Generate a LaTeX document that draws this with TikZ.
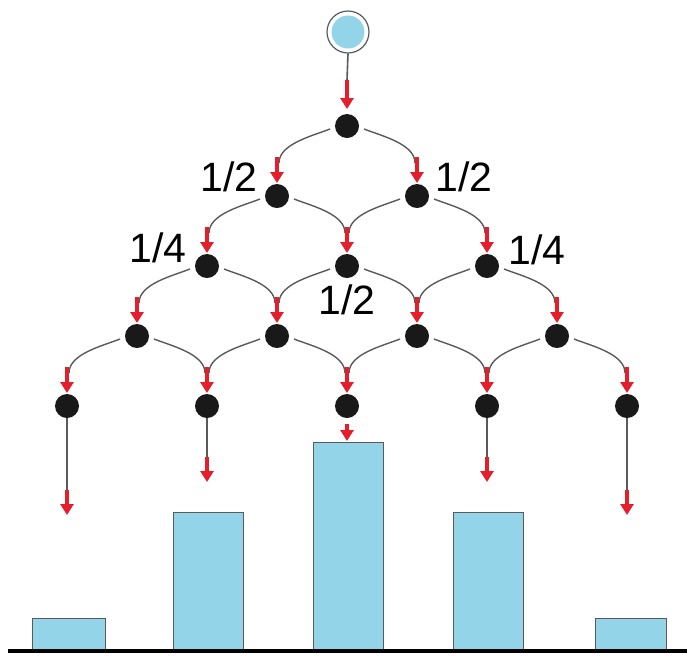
\documentclass[tikz,border=0pt]{standalone}
\usepackage{fontspec}
\setmainfont{Liberation Sans}
\usetikzlibrary{arrows.meta,calc}
\definecolor{barblue}{HTML}{93D4E8}
\definecolor{arrred}{HTML}{E41E2B}
\definecolor{linegray}{HTML}{5A5A5A}
\tikzset{
  dot/.style={circle,fill=black!90,inner sep=0pt,minimum size=24pt},
  arc/.style={draw=linegray,line width=1.4pt},
  stem/.style={draw=linegray,line width=1.6pt},
  redarr/.style={draw=arrred,line width=3.6pt,-{Triangle[width=13pt,length=11pt]}},
  bar/.style={draw=linegray,line width=1pt,fill=barblue},
  lbl/.style={font=\fontsize{41}{41}\selectfont,inner sep=0pt}
}
\begin{document}
\begin{tikzpicture}[x=1pt,y=-1pt]
\useasboundingbox (0,0) rectangle (687,657);
% top source
\node[circle,draw=linegray,line width=1.2pt,fill=white,minimum size=42pt,inner sep=0pt] (src) at (348,32) {};
\node[circle,fill=barblue,minimum size=33pt,inner sep=0pt] at (src) {};
% dots
\foreach \r in {1,...,5}{
  \pgfmathtruncatemacro{\rm}{\r-1}
  \foreach \k in {0,...,\rm}{
    \pgfmathsetmacro{\xx}{347+(2*\k-\rm)*70}
    \pgfmathsetmacro{\yy}{126+70*\rm}
    \node[dot] (d\r\k) at (\xx,\yy) {};
  }
}
% source to first dot
\coordinate (s1) at ($(d10)+(0,-46)$);
\draw[stem] (src.south) -- (s1);
\draw[redarr] (s1) -- ($(d10)+(0,-17)$);
% arcs
\foreach \r in {1,...,4}{
  \pgfmathtruncatemacro{\rm}{\r-1}
  \pgfmathtruncatemacro{\rn}{\r+1}
  \foreach \k in {0,...,\rm}{
    \pgfmathtruncatemacro{\kn}{\k+1}
    % left child
    \draw[arc] ($(d\r\k)+(-17,3)$) .. controls ($(d\r\k)+(-35,10)$) and ($(d\rn\k)+(2,-52)$) .. ($(d\rn\k)+(2,-33)$);
    % right child
    \draw[arc] ($(d\r\k)+(17,3)$) .. controls ($(d\r\k)+(35,10)$) and ($(d\rn\kn)+(-2,-52)$) .. ($(d\rn\kn)+(-2,-33)$);
  }
}
% red arrows above dots rows 2-5
\foreach \r in {2,...,5}{
  \pgfmathtruncatemacro{\rm}{\r-1}
  \foreach \k in {0,...,\rm}{
    \draw[redarr] ($(d\r\k)+(0,-39)$) -- ($(d\r\k)+(0,-13)$);
  }
}
% bottom stems
\coordinate (e0) at ($(d50)+(0,84)$);
\coordinate (e1) at ($(d51)+(0,51)$);
\coordinate (e2) at ($(d52)+(0,18)$);
\coordinate (e3) at ($(d53)+(0,51)$);
\coordinate (e4) at ($(d54)+(0,84)$);
\draw[stem] (d50.south) -- (e0);
\draw[stem] (d51.south) -- (e1);
\draw[stem] (d53.south) -- (e3);
\draw[stem] (d54.south) -- (e4);
\draw[redarr] (e0) -- ($(e0)+(0,25)$);
\draw[redarr] (e1) -- ($(e1)+(0,25)$);
\draw[redarr] (e2) -- ($(e2)+(0,17)$);
\draw[redarr] (e3) -- ($(e3)+(0,25)$);
\draw[redarr] (e4) -- ($(e4)+(0,25)$);
% bars
\draw[bar] (32,618) rectangle (105,651);
\draw[bar] (173,512) rectangle (243,651);
\draw[bar] (313,442) rectangle (383,651);
\draw[bar] (453,512) rectangle (523,651);
\draw[bar] (595,618) rectangle (666,651);
\draw[line width=4pt,black] (8,651) -- (687,651);
% labels
\node[lbl] (l1) at (229,177) {1/2};
\node[lbl] (l2) at (464,177) {1/2};
\node[lbl] (l3) at (158,248) {1/4};
\node[lbl] (l4) at (537,250) {1/4};
\node[lbl] (l5) at (347,300) {1/2};
\end{tikzpicture}
\end{document}
